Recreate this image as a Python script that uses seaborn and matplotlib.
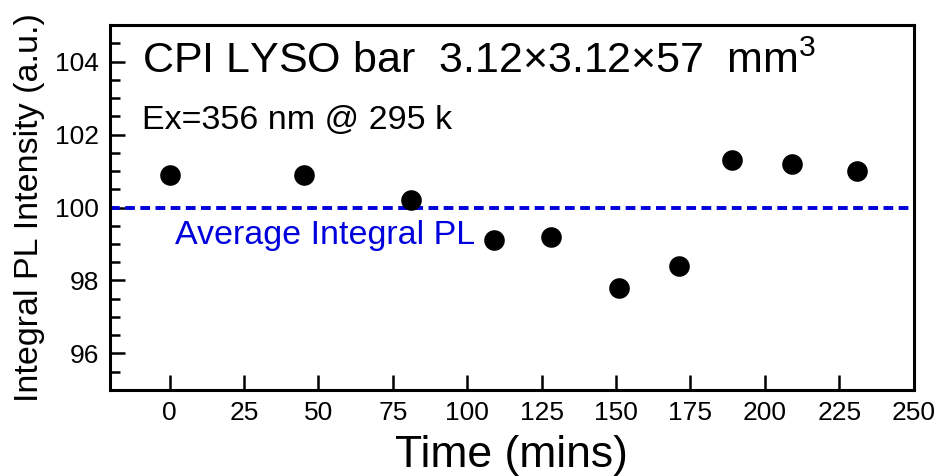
import numpy as np
import pandas as pd
import seaborn as sns
from matplotlib import pyplot as plt
from matplotlib.ticker import MultipleLocator

# datos
time_mins = [0, 45, 81, 109, 128, 151, 171, 189, 209, 231]
integral_pl = [100.9, 100.9, 100.2, 99.1, 99.2, 97.8, 98.4, 101.3, 101.2, 101.0]
average_pl = 100.0
x_ticks = [0, 25, 50, 75, 100, 125, 150, 175, 200, 225, 250]
y_ticks = [96, 98, 100, 102, 104]

sns.set_theme(style="ticks")
plt.rcParams["font.family"] = ["Liberation Sans", "DejaVu Sans"]
plt.rcParams["mathtext.fontset"] = "custom"
plt.rcParams["mathtext.rm"] = "Liberation Sans"

df = pd.DataFrame({"time": time_mins, "pl": integral_pl})

fig, ax = plt.subplots(figsize=(9.41, 4.76), dpi=100)
fig.subplots_adjust(left=0.117, right=0.971, top=0.947, bottom=0.181)

ax.axhline(average_pl, color="#0000dd", lw=2.8, linestyle=(0, (2.5, 1.4)), zorder=1)
sns.scatterplot(data=df, x="time", y="pl", s=220, color="black", edgecolor="black",
                linewidth=0, legend=False, zorder=3, ax=ax)

ax.set_xlim(-20, 250)
ax.set_ylim(95, 105)
ax.set_xticks(x_ticks)
ax.set_yticks(y_ticks)
ax.yaxis.set_minor_locator(MultipleLocator(0.5))

ax.tick_params(axis="both", which="major", direction="in", length=11, width=1.8,
               labelsize=19, color="black", labelcolor="black", pad=8)
ax.tick_params(axis="y", which="minor", direction="in", length=7, width=1.8, color="black")
for sp in ax.spines.values():
    sp.set_linewidth(2.2)
    sp.set_color("black")
    sp.set_visible(True)

ax.set_xlabel("Time (mins)", fontsize=32, color="black", labelpad=7)
ax.set_ylabel("Integral PL Intensity (a.u.)", fontsize=24.5, color="black", labelpad=7)

ax.text(0.04, 0.955, r"CPI LYSO bar  3.12$\times$3.12$\times$57  mm$^{3}$", transform=ax.transAxes,
        fontsize=31, color="black", ha="left", va="top")
ax.text(0.04, 0.78, "Ex=356 nm @ 295 k", transform=ax.transAxes,
        fontsize=24.5, color="black", ha="left", va="top")
ax.text(0.081, 0.465, "Average Integral PL", transform=ax.transAxes,
        fontsize=24.5, color="#0000dd", ha="left", va="top")

fig.savefig("out.png", dpi=100)
